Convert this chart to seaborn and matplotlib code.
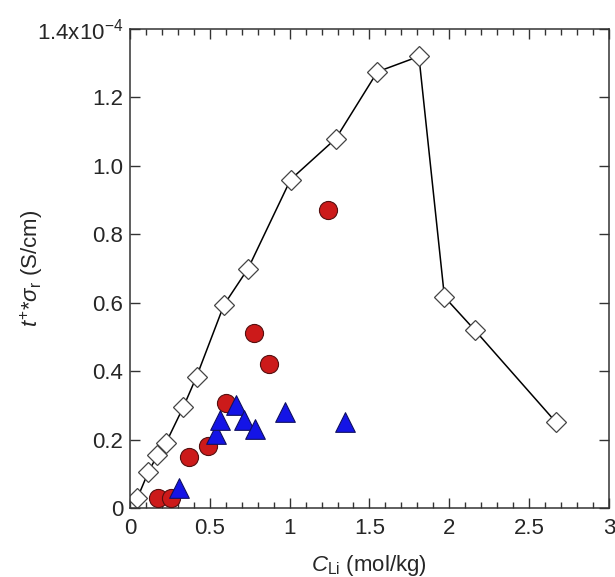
import numpy as np
import pandas as pd
import matplotlib
matplotlib.use("Agg")
import matplotlib.pyplot as plt
from matplotlib.ticker import MultipleLocator, FuncFormatter
import seaborn as sns

# valores de y em unidades de 1e-4 S/cm
diam_x = [0.046, 0.114, 0.171, 0.225, 0.333, 0.417, 0.589, 0.74, 1.006, 1.29, 1.55, 1.81, 1.97, 2.16, 2.67]
diam_y = [0.029, 0.104, 0.154, 0.19, 0.294, 0.384, 0.594, 0.70, 0.96, 1.08, 1.275, 1.32, 0.617, 0.52, 0.25]

circ_x = [0.173, 0.256, 0.37, 0.49, 0.604, 0.777, 0.869, 1.24]
circ_y = [0.029, 0.029, 0.149, 0.18, 0.308, 0.511, 0.421, 0.871]

tri_x = [0.308, 0.54, 0.5625, 0.667, 0.714, 0.78, 0.97, 1.35]
tri_y = [0.058, 0.217, 0.258, 0.30, 0.258, 0.23, 0.282, 0.25]

x_ticks = [0, 0.5, 1, 1.5, 2, 2.5, 3]
y_ticks = [0, 0.2, 0.4, 0.6, 0.8, 1.0, 1.2, 1.4]


def main():
    sns.set_style("ticks")
    plt.rcParams['font.family'] = ['Liberation Sans', 'DejaVu Sans']
    plt.rcParams['mathtext.fontset'] = 'custom'
    plt.rcParams['mathtext.rm'] = 'Liberation Sans'
    plt.rcParams['mathtext.it'] = 'Liberation Sans:italic'

    fig = plt.figure(figsize=(6.15, 5.77), dpi=100)
    ax = fig.add_axes([0.2114, 0.1196, 0.7786, 0.8301])

    df_d = pd.DataFrame({'x': diam_x, 'y': diam_y})
    df_c = pd.DataFrame({'x': circ_x, 'y': circ_y})
    df_t = pd.DataFrame({'x': tri_x, 'y': tri_y})

    sns.lineplot(data=df_d, x='x', y='y', ax=ax, color='black', lw=1.1,
                 marker='D', markersize=10, markerfacecolor='white',
                 markeredgecolor='#444444', markeredgewidth=0.9, sort=False, zorder=2)
    sns.scatterplot(data=df_c, x='x', y='y', ax=ax, marker='o', s=170,
                    color='#CC1A1A', edgecolor='#551010', linewidth=0.8, zorder=3)
    sns.scatterplot(data=df_t, x='x', y='y', ax=ax, marker='^', s=200,
                    color='#1414E6', edgecolor='#101060', linewidth=0.8, zorder=3)

    ax.set_xlim(0, 3)
    ax.set_ylim(0, 1.4)
    ax.set_xticks(x_ticks)
    ax.set_yticks(y_ticks)
    ax.xaxis.set_minor_locator(MultipleLocator(0.1))

    def fmt_x(v, pos):
        return '%g' % v

    def fmt_y(v, pos):
        if abs(v - 1.4) < 1e-6:
            return r'1.4x10$^{-4}$'
        if v == 0:
            return '0'
        return '%.1f' % v

    ax.xaxis.set_major_formatter(FuncFormatter(fmt_x))
    ax.yaxis.set_major_formatter(FuncFormatter(fmt_y))

    ax.tick_params(which='both', direction='in', top=True, right=True, labelsize=16, color='#333333')
    ax.tick_params(which='major', length=7, width=1)
    ax.tick_params(which='minor', length=4, width=1)
    ax.tick_params(axis='x', pad=7)
    ax.tick_params(axis='y', pad=5)
    for s in ax.spines.values():
        s.set_linewidth(1.1)
        s.set_color('#333333')

    ax.set_xlabel(r'$C_{\mathrm{Li}}$ (mol/kg)', fontsize=16)
    ax.set_ylabel(r'$t^{+}$*$\sigma_{\mathrm{r}}$ (S/cm)', fontsize=16)
    ax.xaxis.set_label_coords(0.5, -0.094)
    ax.yaxis.set_label_coords(-0.177, 0.5)

    fig.savefig('out.png', dpi=100)


if __name__ == "__main__":
    main()
